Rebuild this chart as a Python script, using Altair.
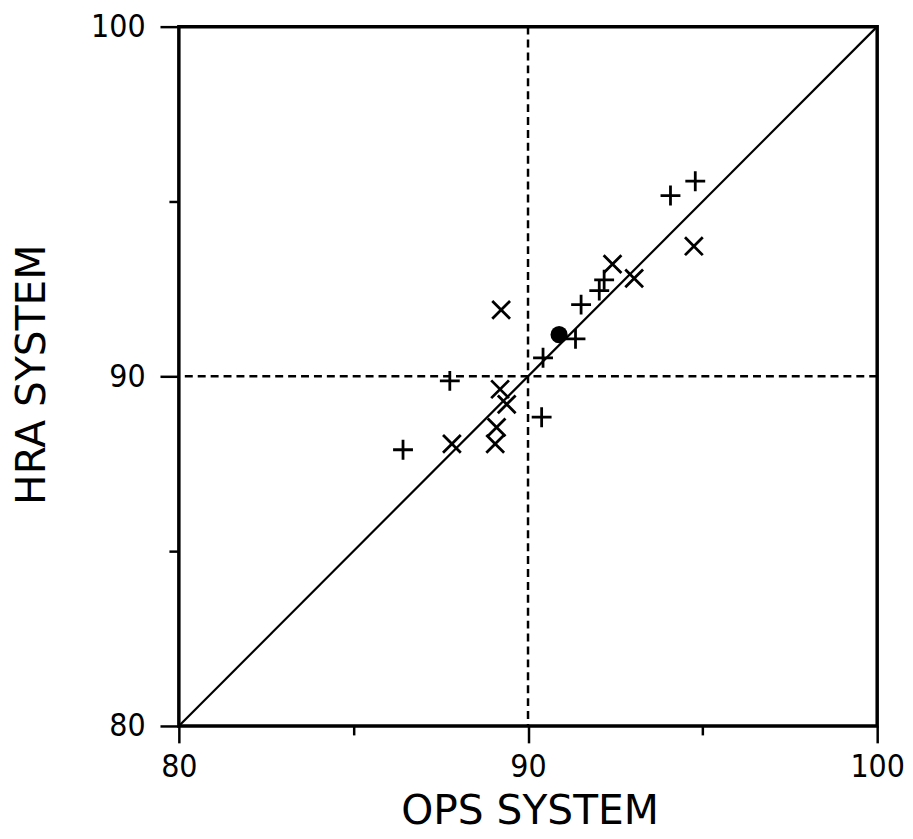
import altair as alt
import pandas as pd

# OPS (x) vs HRA (y) values
plus_ops = [94.79, 94.08, 91.52, 92.04, 92.18, 91.36, 90.43, 87.76, 90.39, 86.42]
plus_hra = [95.58, 95.17, 92.05, 92.45, 92.76, 91.07, 90.53, 89.87, 88.83, 87.90]

cross_ops = [94.75, 92.42, 93.04, 89.23, 89.20, 89.39, 89.10, 89.06, 87.82]
cross_hra = [93.72, 93.21, 92.80, 91.90, 89.63, 89.20, 88.54, 88.07, 88.07]

dot_ops = [90.89]
dot_hra = [91.19]

diag_vals = [80, 100]
ref_ops = [90]
ref_hra = [90]
tick_vals = [80, 85, 90, 95, 100]

df_plus = pd.DataFrame({"ops": plus_ops, "hra": plus_hra})
df_cross = pd.DataFrame({"ops": cross_ops, "hra": cross_hra})
df_dot = pd.DataFrame({"ops": dot_ops, "hra": dot_hra})
df_diag = pd.DataFrame({"ops": diag_vals, "hra": diag_vals})
df_refx = pd.DataFrame({"ops": ref_ops})
df_refy = pd.DataFrame({"hra": ref_hra})

LABEL_FONT = "DejaVu Sans Condensed"
TITLE_FONT = "DejaVu Sans"

x_scale = alt.Scale(domain=[80, 100], nice=False, zero=False)
y_scale = alt.Scale(domain=[80, 100], nice=False, zero=False)

x_axis = alt.Axis(
    values=tick_vals,
    labelExpr="datum.value % 10 === 0 ? datum.label : ''",
    grid=False, domain=False, labelFlush=False, labelOverlap=False,
    tickSize={"condition": {"test": "datum.value % 10 === 0", "value": 17}, "value": 9},
    tickWidth=2.5, tickColor="black",
    labelFont=LABEL_FONT, labelFontSize=32, labelColor="black", labelPadding=9,
    title="OPS SYSTEM", titleFont=TITLE_FONT, titleFontSize=41, titleFontWeight="normal",
    titleColor="black", titleX=353, titleY=98, titleAlign="center", titleBaseline="alphabetic",
)
y_axis = alt.Axis(
    values=tick_vals,
    labelExpr="datum.value % 10 === 0 ? datum.label : ''",
    grid=False, domain=False, labelFlush=False, labelOverlap=False,
    tickSize={"condition": {"test": "datum.value % 10 === 0", "value": 19}, "value": 10},
    tickWidth=2.5, tickColor="black",
    labelFont=LABEL_FONT, labelFontSize=32, labelColor="black", labelPadding=15,
    title="HRA SYSTEM", titleFont=TITLE_FONT, titleFontSize=41, titleFontWeight="normal",
    titleColor="black", titleX=-135, titleY=350, titleAlign="center", titleBaseline="alphabetic",
    titleAngle=270,
)

X = alt.X("ops:Q", scale=x_scale, axis=x_axis)
Y = alt.Y("hra:Q", scale=y_scale, axis=y_axis)

diag = alt.Chart(df_diag).mark_line(color="black", strokeWidth=2.2).encode(x=X, y=Y)
refx = alt.Chart(df_refx).mark_rule(color="black", strokeWidth=2.5, strokeDash=[8, 5]).encode(x=X)
refy = alt.Chart(df_refy).mark_rule(color="black", strokeWidth=2.5, strokeDash=[8, 5]).encode(y=Y)

plus = alt.Chart(df_plus).mark_point(
    shape="M-1,0L1,0M0,-1L0,1", size=400, filled=False,
    stroke="black", strokeWidth=2.8, opacity=1,
).encode(x=X, y=Y)

cross = alt.Chart(df_cross).mark_point(
    shape="M-1,-1L1,1M-1,1L1,-1", size=320, filled=False,
    stroke="black", strokeWidth=2.8, opacity=1,
).encode(x=X, y=Y)

dot = alt.Chart(df_dot).mark_circle(size=300, color="black", opacity=1).encode(x=X, y=Y)

chart = alt.layer(diag, refx, refy, plus, cross, dot).properties(
    width=703, height=704,
    padding={"left": 172, "top": 16, "right": 28, "bottom": 108},
    autosize=alt.AutoSizeParams(type="none"),
    background="white",
).configure_view(stroke="black", strokeWidth=3.5)

chart.save("out.html", embed_options={"renderer": "svg", "actions": False})
